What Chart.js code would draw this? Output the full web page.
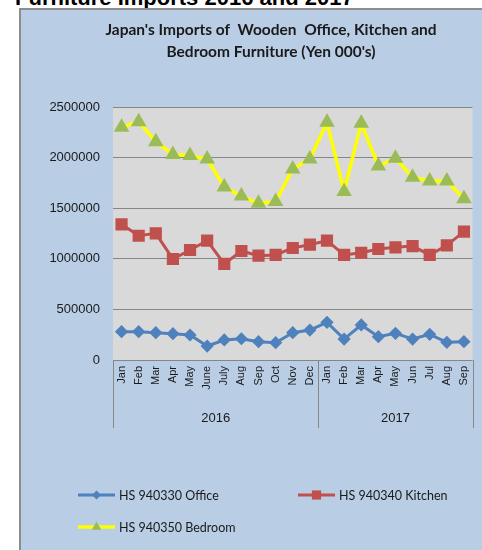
<!DOCTYPE html>
<html>
<head>
<meta charset="utf-8">
<script src="https://cdn.jsdelivr.net/npm/chart.js@4/dist/chart.umd.min.js"></script>
<style>
  body { margin: 0; width: 482px; height: 550px; overflow: hidden; background: #fff; position: relative; }
  #heading {
    position: absolute; left: 15px; top: -13px; margin: 0;
    font: bold 22px "Liberation Sans", Arial, sans-serif; line-height: 22px; color: #000; white-space: nowrap;
  }
  #box {
    position: absolute; left: 19px; top: 8px; width: 520px; height: 600px;
    background: #b9cde5; border-top: 2px solid #8c8c8c; border-left: 2px solid #8c8c8c;
  }
  #chart { position: absolute; left: 0; top: 0; }
</style>
</head>
<body>
<div id="heading">Furniture Imports 2016 and 2017</div>
<div id="box"></div>
<canvas id="chart" width="482" height="550"></canvas>
<script>
const titleLines = ["Japan's Imports of  Wooden  Office, Kitchen and", "Bedroom Furniture (Yen 000's)"];
const months = ["Jan", "Feb", "Mar", "Apr", "May", "June", "July", "Aug", "Sep", "Oct", "Nov", "Dec",
  "Jan", "Feb", "Mar", "Apr", "May", "Jun", "Jul", "Aug", "Sep"];
const yearLabels = ["2016", "2017"];
const yearSpans = [12, 9];

const office = [280000, 280000, 270000, 260000, 247000, 138000, 198000, 210000, 181000, 171000, 270000, 296000,
  372000, 207000, 346000, 230000, 264000, 207000, 254000, 175000, 181000];
const kitchen = [1341000, 1228000, 1252000, 998000, 1087000, 1179000, 949000, 1077000, 1031000, 1038000, 1107000, 1140000,
  1179000, 1038000, 1060000, 1097000, 1113000, 1126000, 1038000, 1133000, 1268000];
const bedroom = [2300000, 2355000, 2157000, 2030000, 2020000, 1986000, 1710000, 1620000, 1548000, 1565000, 1887000, 1986000,
  2350000, 1665000, 2340000, 1917000, 1993000, 1805000, 1769000, 1769000, 1594000];

const textColor = "#1a1a1a";
const gridColor = "#868686";

// grey plot area
const plotBackground = {
  id: "plotBackground",
  beforeDraw(chart) {
    const { ctx, chartArea } = chart;
    ctx.save();
    ctx.fillStyle = "#d9d9d9";
    ctx.fillRect(chartArea.left, chartArea.top, chartArea.width, chartArea.height);
    ctx.restore();
  },
};

function drawMarker(ctx, style, x, y, r, color) {
  ctx.fillStyle = color;
  ctx.beginPath();
  if (style === "rectRot") {
    ctx.moveTo(x, y - r);
    ctx.lineTo(x + r, y);
    ctx.lineTo(x, y + r);
    ctx.lineTo(x - r, y);
  } else if (style === "rect") {
    const s = r * Math.SQRT1_2;
    ctx.rect(x - s, y - s, s * 2, s * 2);
  } else {
    ctx.moveTo(x, y - r);
    ctx.lineTo(x + r * 0.866, y + r * 0.5);
    ctx.lineTo(x - r * 0.866, y + r * 0.5);
  }
  ctx.closePath();
  ctx.fill();
}

// title (off-centre like the original), year groups and legend
const decorations = {
  id: "decorations",
  afterDraw(chart) {
    const { ctx, chartArea } = chart;
    const x = chart.scales.x;
    const step = x.getPixelForValue(1) - x.getPixelForValue(0);
    ctx.save();
    ctx.fillStyle = textColor;
    ctx.textAlign = "center";
    ctx.textBaseline = "middle";
    ctx.font = 'bold 15.5px Lato, "Liberation Sans", sans-serif';
    titleLines.forEach((line, i) => ctx.fillText(line, 271, 30 + i * 22));

    ctx.strokeStyle = gridColor;
    ctx.lineWidth = 1;
    ctx.font = '13px "Liberation Sans", Arial, sans-serif';
    let start = 0;
    const bounds = [chartArea.left];
    yearSpans.forEach((span, i) => {
      const left = x.getPixelForValue(start) - step / 2;
      const right = x.getPixelForValue(start + span - 1) + step / 2;
      bounds.push(right);
      ctx.fillText(yearLabels[i], (left + right) / 2, 418);
      start += span;
    });
    bounds.forEach((bx) => {
      const px = Math.round(bx) + 0.5;
      ctx.beginPath();
      ctx.moveTo(px, chartArea.bottom);
      ctx.lineTo(px, 428);
      ctx.stroke();
    });

    const items = [
      { ds: 0, x: 78, y: 495 },
      { ds: 1, x: 298, y: 495 },
      { ds: 2, x: 78, y: 527 },
    ];
    ctx.textAlign = "left";
    ctx.font = '12.5px Lato, "Liberation Sans", sans-serif';
    items.forEach((item) => {
      const ds = chart.data.datasets[item.ds];
      ctx.strokeStyle = ds.borderColor;
      ctx.lineWidth = ds.borderWidth;
      ctx.beginPath();
      ctx.moveTo(item.x, item.y);
      ctx.lineTo(item.x + 37, item.y);
      ctx.stroke();
      drawMarker(ctx, ds.pointStyle, item.x + 18.5, item.y, ds.pointRadius, ds.pointBackgroundColor);
      ctx.fillStyle = textColor;
      ctx.fillText(ds.label, item.x + 41, item.y + 1);
    });
    ctx.restore();
  },
};

new Chart(document.getElementById("chart"), {
  type: "line",
  data: {
    labels: months,
    datasets: [
      {
        label: "HS 940330 Office",
        data: office,
        borderColor: "#4f81bd",
        backgroundColor: "#4f81bd",
        pointBackgroundColor: "#4f81bd",
        pointBorderColor: "#4f81bd",
        borderWidth: 3,
        pointStyle: "rectRot",
        pointRadius: 4.5,
        tension: 0,
      },
      {
        label: "HS 940340 Kitchen",
        data: kitchen,
        borderColor: "#c0504d",
        backgroundColor: "#c0504d",
        pointBackgroundColor: "#c0504d",
        pointBorderColor: "#c0504d",
        borderWidth: 3,
        pointStyle: "rect",
        pointRadius: 6.5,
        tension: 0,
      },
      {
        label: "HS 940350 Bedroom",
        data: bedroom,
        borderColor: "#ffff00",
        backgroundColor: "#9bbb59",
        pointBackgroundColor: "#9bbb59",
        pointBorderColor: "#9bbb59",
        borderWidth: 3.5,
        pointStyle: "triangle",
        pointRadius: 5.5,
        tension: 0,
      },
    ],
  },
  options: {
    responsive: false,
    animation: false,
    layout: { padding: { left: 0, right: 8, top: 107, bottom: 0 } },
    plugins: {
      legend: { display: false },
      tooltip: { enabled: false },
      title: { display: false },
    },
    scales: {
      x: {
        offset: true,
        grid: { display: false, drawTicks: false },
        border: { display: false },
        ticks: {
          color: textColor,
          font: { family: "'Liberation Sans', Arial, sans-serif", size: 11 },
          minRotation: 90,
          maxRotation: 90,
          autoSkip: false,
          padding: 6,
        },
        afterFit(scale) {
          scale.height = 190;
          scale.paddingLeft = 0;
          scale.paddingRight = 0;
        },
      },
      y: {
        min: 0,
        max: 2500000,
        grid: { color: gridColor, lineWidth: 1, drawTicks: false },
        border: { display: false },
        ticks: {
          stepSize: 500000,
          color: textColor,
          font: { family: "'Liberation Sans', Arial, sans-serif", size: 13 },
          padding: 13,
          callback: (value) => String(value),
        },
        afterFit(scale) {
          scale.width = 113;
          scale.paddingTop = 0;
          scale.paddingBottom = 0;
        },
      },
    },
  },
  plugins: [plotBackground, decorations],
});
</script>
</body>
</html>
